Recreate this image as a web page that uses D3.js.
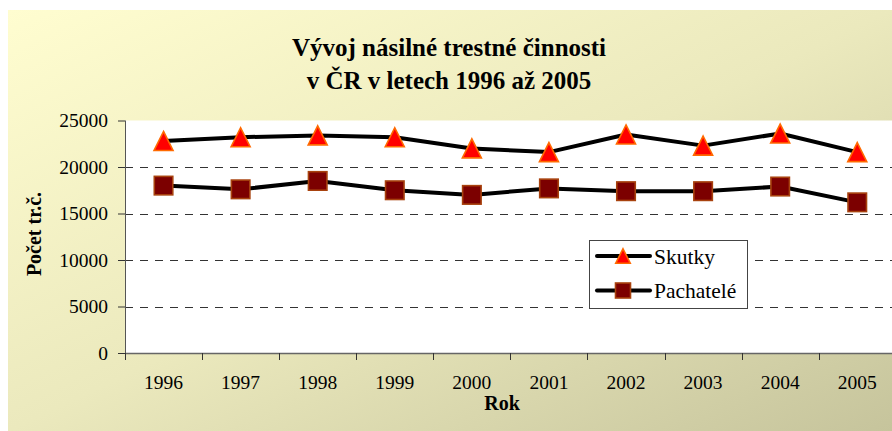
<!DOCTYPE html>
<html>
<head>
<meta charset="utf-8">
<script src="https://cdn.jsdelivr.net/npm/d3@7/dist/d3.min.js"></script>
<style>
  html, body { margin: 0; padding: 0; background: #ffffff; }
  svg { display: block; }
</style>
</head>
<body>
<svg id="chart" width="892" height="431"></svg>
<script>
// Násilná trestná činnost v ČR, 1996–2005
const years = ["1996", "1997", "1998", "1999", "2000", "2001", "2002", "2003", "2004", "2005"];
const skutky = [22800, 23200, 23400, 23200, 22000, 21600, 23500, 22300, 23600, 21600];
const pachatele = [18000, 17600, 18500, 17500, 17000, 17700, 17400, 17400, 17900, 16200];
const yTicks = [0, 5000, 10000, 15000, 20000, 25000];
const titleLines = ["Vývoj násilné trestné činnosti", "v ČR v letech 1996 až 2005"];
const seriesNames = ["Skutky", "Pachatelé"];

const FONT = "'Liberation Serif', 'Times New Roman', Times, serif";
const W = 892, H = 431;
const plot = { left: 125, top: 120.5, bottom: 353, right: 895.8 };

const svg = d3.select("#chart");
const defs = svg.append("defs");

// Panel background: diagonal pale-yellow to khaki gradient
const grad = defs.append("linearGradient")
  .attr("id", "bg").attr("x1", 0).attr("y1", 0).attr("x2", 1).attr("y2", 1);
grad.append("stop").attr("offset", "0%").attr("stop-color", "#fffdd0");
grad.append("stop").attr("offset", "50%").attr("stop-color", "#ebe9bd");
grad.append("stop").attr("offset", "100%").attr("stop-color", "#c6c49c");

svg.append("rect")
  .attr("x", 8).attr("y", 10).attr("width", W - 8).attr("height", H - 10)
  .attr("fill", "url(#bg)");

// Scales
const x = d3.scaleBand().domain(years).range([plot.left, plot.right]);
const y = d3.scaleLinear().domain([0, 25000]).range([plot.bottom, plot.top]);
const cx = d => x(d) + x.bandwidth() / 2;

// Plot area
svg.append("rect")
  .attr("x", plot.left).attr("y", plot.top)
  .attr("width", W - plot.left).attr("height", plot.bottom - plot.top)
  .attr("fill", "#ffffff");

// Dashed gridlines
svg.append("g").selectAll("line")
  .data(yTicks.filter(t => t > 0 && t < 25000))
  .join("line")
  .attr("x1", plot.left).attr("x2", W)
  .attr("y1", d => Math.round(y(d)) + 0.5).attr("y2", d => Math.round(y(d)) + 0.5)
  .attr("stroke", "#333").attr("stroke-width", 1)
  .attr("stroke-dasharray", "8,7");

// Y axis
const yAxis = svg.append("g")
  .attr("transform", `translate(${plot.left},0)`)
  .call(d3.axisLeft(y).tickValues(yTicks).tickSize(7).tickPadding(10).tickFormat(d3.format("d")));
yAxis.attr("font-family", null).attr("font-size", null);
yAxis.select(".domain").attr("stroke", "#555").attr("d", `M0.5,${plot.top}V${plot.bottom}`);
yAxis.selectAll(".tick line").attr("stroke", "#333");
yAxis.selectAll("text")
  .style("font-family", FONT)
  .style("font-size", "19.5px")
  .attr("fill", "#000");

// X axis: ticks at category boundaries
const xAxisG = svg.append("g").attr("transform", `translate(0,${plot.bottom})`);
xAxisG.append("line")
  .attr("x1", plot.left).attr("x2", W).attr("y1", 0.5).attr("y2", 0.5)
  .attr("stroke", "#666").attr("stroke-width", 1.5);
xAxisG.selectAll("line.tk")
  .data(years)
  .join("line").attr("class", "tk")
  .attr("x1", d => Math.round(x(d)) + 0.5).attr("x2", d => Math.round(x(d)) + 0.5)
  .attr("y1", 0).attr("y2", 7)
  .attr("stroke", "#333");
xAxisG.selectAll("text")
  .data(years)
  .join("text")
  .attr("x", d => cx(d)).attr("y", 36)
  .attr("text-anchor", "middle")
  .style("font-family", FONT)
  .style("font-size", "19.5px")
  .attr("fill", "#000")
  .text(d => d);

// Axis titles
svg.append("text")
  .attr("x", 502).attr("y", 410)
  .attr("text-anchor", "middle")
  .style("font-family", FONT)
  .style("font-size", "20px").style("font-weight", "bold")
  .text("Rok");
svg.append("text")
  .attr("transform", "translate(41,234) rotate(-90)")
  .attr("text-anchor", "middle")
  .style("font-family", FONT)
  .style("font-size", "20px").style("font-weight", "bold")
  .text("Počet tr.č.");

// Title
svg.append("g").selectAll("text")
  .data(titleLines)
  .join("text")
  .attr("x", 449).attr("y", (d, i) => 56 + i * 33)
  .attr("text-anchor", "middle")
  .style("font-family", FONT)
  .style("font-size", "25px").style("font-weight", "bold")
  .text(d => d);

// Series lines
const line = d3.line().x((d, i) => cx(years[i])).y(d => y(d));
[skutky, pachatele].forEach(vals => {
  svg.append("path")
    .datum(vals)
    .attr("d", line)
    .attr("fill", "none")
    .attr("stroke", "#000")
    .attr("stroke-width", 4)
    .attr("stroke-linejoin", "round");
});

// Marker shapes
function triangle(g, s) {
  const h = s / 2;
  g.append("path")
    .attr("d", `M0,${-h}L${h},${h}L${-h},${h}Z`)
    .attr("fill", "#ff0000").attr("stroke", "#ff6a00").attr("stroke-width", 1.6)
    .attr("stroke-linejoin", "miter");
}
function square(g, s) {
  const h = s / 2;
  g.append("rect")
    .attr("x", -h).attr("y", -h).attr("width", s).attr("height", s)
    .attr("fill", "#7c0000").attr("stroke", "#a8420e").attr("stroke-width", 1.6);
}

svg.append("g").selectAll("g")
  .data(skutky)
  .join("g")
  .attr("transform", (d, i) => `translate(${cx(years[i])},${y(d)})`)
  .each(function () { triangle(d3.select(this), 19); });

svg.append("g").selectAll("g")
  .data(pachatele)
  .join("g")
  .attr("transform", (d, i) => `translate(${cx(years[i])},${y(d)})`)
  .each(function () { square(d3.select(this), 18.5); });

// Legend
const lg = svg.append("g");
lg.append("rect")
  .attr("x", 589.5).attr("y", 240.5).attr("width", 158).attr("height", 68)
  .attr("fill", "#fff").attr("stroke", "#444").attr("stroke-width", 1);
const rows = [
  { name: seriesNames[0], y: 256, draw: g => triangle(g, 14.5) },
  { name: seriesNames[1], y: 290.5, draw: g => square(g, 15) }
];
rows.forEach(r => {
  lg.append("line")
    .attr("x1", 597).attr("x2", 650).attr("y1", r.y).attr("y2", r.y)
    .attr("stroke", "#000").attr("stroke-width", 4).attr("stroke-linecap", "round");
  const m = lg.append("g").attr("transform", `translate(623,${r.y})`);
  r.draw(m);
  lg.append("text")
    .attr("x", 654).attr("y", r.y + 7.5)
    .style("font-family", FONT)
    .style("font-size", "21.5px")
    .attr("fill", "#000")
    .text(r.name);
});
</script>
</body>
</html>
